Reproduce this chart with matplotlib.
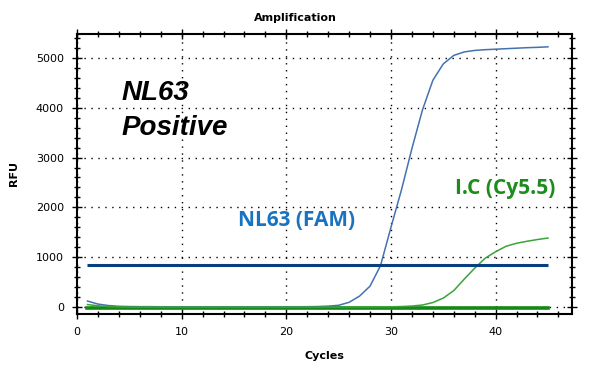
import matplotlib
matplotlib.use("Agg")
import matplotlib.pyplot as plt
from matplotlib.ticker import MultipleLocator

cycles = list(range(1, 46))

# NL63 (FAM) amplification curve
fam_rfu = [120, 60, 30, 15, 10, 8, 8, 6, 5, 5,
           5, 5, 5, 5, 5, 5, 5, 5, 6, 6,
           6, 7, 10, 18, 35, 95, 220, 420, 830, 1600,
           2350, 3180, 3950, 4550, 4880, 5050, 5120, 5150, 5165, 5175,
           5185, 5195, 5205, 5212, 5222]

# internal control (Cy5.5)
ic_rfu = [50, 25, 10, 5, 0, 0, 0, 0, 0, 0,
          0, 0, 0, 0, 0, 0, 0, 0, 0, 0,
          0, 0, 0, 0, 0, 0, 0, 0, 2, 5,
          10, 20, 40, 90, 180, 330, 560, 780, 980, 1110,
          1220, 1280, 1320, 1355, 1385]

# negative wells, flat near zero
neg_rfu = [-15] * 45

threshold = 840

fig = plt.figure(figsize=(5.91, 3.71), dpi=100)
ax = fig.add_axes([0.1303, 0.1536, 0.8376, 0.7548])

ax.plot(cycles, neg_rfu, color="#138a13", lw=2.6, zorder=2)
ax.plot(cycles, fam_rfu, color="#4472b0", lw=1.1, zorder=3)
ax.plot(cycles, ic_rfu, color="#3aa33a", lw=1.1, zorder=3)
ax.hlines(threshold, cycles[0], cycles[-1], color="#08407f", lw=2.2, zorder=4)

ax.set_xlim(0, 47.3)
ax.set_ylim(-140, 5480)
ax.xaxis.set_major_locator(MultipleLocator(10))
ax.xaxis.set_minor_locator(MultipleLocator(2))
ax.yaxis.set_major_locator(MultipleLocator(1000))
ax.yaxis.set_minor_locator(MultipleLocator(200))
ax.tick_params(which="both", direction="inout", top=True, right=True,
               labelsize=8, width=1)
ax.tick_params(which="major", length=7, pad=6)
ax.tick_params(which="minor", length=5)
ax.grid(True, which="major", color="black", linestyle=(0, (1, 4)), lw=1)
for s in ax.spines.values():
    s.set_linewidth(1.5)

bold_it = dict(fontsize=20, fontweight="bold", fontstyle="italic",
               family="Liberation Sans", color="black")
ax.text(4.3, 4150, "NL63", **bold_it)
ax.text(4.3, 3450, "Positive", **bold_it)
ax.text(15.4, 1620, "NL63 (FAM)", fontsize=15, fontweight="bold",
        family="Open Sans", color="#1a73c0")
ax.text(36.1, 2274, "I.C (Cy5.5)", fontsize=15, fontweight="bold",
        family="Open Sans", color="#1c8c1c")

fig.text(0.5, 0.951, "Amplification", ha="center", va="center",
         fontsize=8, fontweight="bold")
ax.set_xlabel("Cycles", fontsize=8, fontweight="bold", labelpad=10)
ax.set_ylabel("RFU", fontsize=8, fontweight="bold", labelpad=12)

fig.savefig("out.png", dpi=100)
